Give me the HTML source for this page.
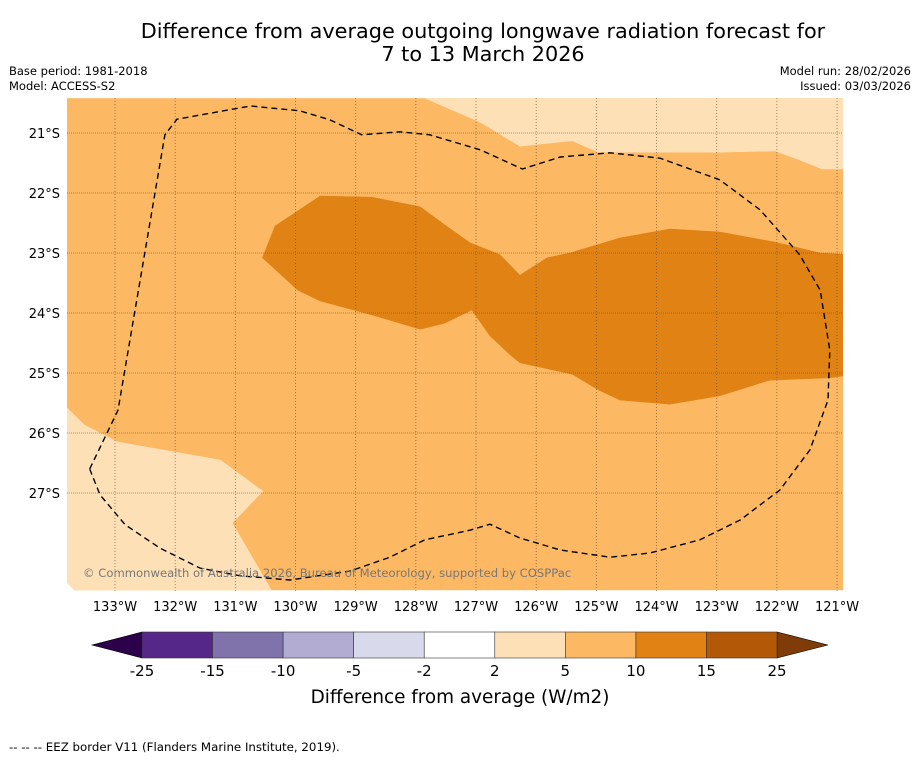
<!DOCTYPE html>
<html><head><meta charset="utf-8"><style>
body{margin:0;background:#fff;width:919px;height:758px;overflow:hidden;font-family:"DejaVu Sans","Liberation Sans",sans-serif}
</style></head><body>
<svg width="919" height="758" xmlns="http://www.w3.org/2000/svg" font-family="DejaVu Sans, Liberation Sans, sans-serif">
<text x="483" y="38" font-size="20.8" text-anchor="middle">Difference from average outgoing longwave radiation forecast for</text>
<text x="483" y="61" font-size="20.8" text-anchor="middle">7 to 13 March 2026</text>
<text x="9" y="75" font-size="11.5">Base period: 1981-2018</text>
<text x="9" y="90" font-size="11.5">Model: ACCESS-S2</text>
<text x="911" y="75" font-size="11.5" text-anchor="end">Model run: 28/02/2026</text>
<text x="911" y="90" font-size="11.5" text-anchor="end">Issued: 03/03/2026</text>
<defs><clipPath id="mapclip"><rect x="67" y="98" width="776" height="493"/></clipPath></defs>
<g id="map" clip-path="url(#mapclip)"></g>
<g id="ticks"></g>
<g id="cbar"></g>
<text x="460" y="703" font-size="18.4" text-anchor="middle">Difference from average (W/m2)</text>
<text x="9" y="751" font-size="11.8">--  --  -- EEZ border V11 (Flanders Marine Institute, 2019).</text>
</svg>
<script>
const lonTicks=[133,132,131,130,129,128,127,126,125,124,123,122,121];
const latTicks=[21,22,23,24,25,26,27];
const cbarLevels=[-25,-15,-10,-5,-2,2,5,10,15,25];
const cbarColors=["#542788","#8073ac","#b2abd2","#d8daeb","#ffffff","#fee0b6","#fdb863","#e08214","#b35806"];
const extent=[133.8,120.9,20.42,28.62];
const whiteTop=[[124.27,20.42],[123.74,20.57],[122.98,20.58],[122.03,20.45],[121.62,20.52],[121.2,20.58],[120.9,20.57],[120.9,20.3],[124.27,20.3]];
const lightTop=[[127.85,20.42],[126.93,20.82],[126.27,21.22],[125.40,21.13],[124.97,21.32],[122.95,21.32],[122.03,21.3],[121.62,21.45],[121.25,21.6],[120.9,21.6],[120.9,20.42]];
const lightBL=[[133.8,25.58],[133.5,25.87],[132.95,26.15],[131.25,26.45],[130.54,26.97],[131.05,27.5],[130.4,28.62],[133.8,28.62]];
const darkBlob=[[130.55,23.08],[130.34,22.55],[129.59,22.05],[128.73,22.07],[127.93,22.23],[127.52,22.53],[127.10,22.83],[126.60,23.03],[126.27,23.37],[125.82,23.08],[125.44,23.0],[124.61,22.75],[123.78,22.6],[122.95,22.65],[122.03,22.82],[121.28,23.0],[120.9,23.02],[120.9,25.05],[121.12,25.08],[122.12,25.12],[122.95,25.38],[123.78,25.52],[124.61,25.45],[124.97,25.28],[125.40,25.02],[126.27,24.83],[126.43,24.70],[126.77,24.38],[127.07,23.95],[127.52,24.17],[127.93,24.27],[128.77,24.02],[129.59,23.8],[129.96,23.62]];
const eez=[[133.42,26.6],[132.95,25.62],[132.17,21.03],[131.97,20.77],[130.75,20.55],[129.93,20.63],[129.43,20.78],[128.9,21.03],[128.27,20.98],[127.77,21.03],[126.93,21.28],[126.23,21.6],[125.6,21.4],[124.77,21.33],[123.94,21.42],[122.95,21.78],[122.28,22.28],[121.62,23.03],[121.28,23.62],[121.12,24.62],[121.15,25.45],[121.45,26.28],[121.95,26.95],[122.61,27.45],[123.28,27.78],[124.11,28.0],[124.77,28.07],[125.6,27.95],[126.27,27.75],[126.77,27.52],[127.10,27.62],[127.85,27.78],[128.43,28.07],[129.09,28.3],[130.09,28.45],[130.92,28.38],[131.59,28.25],[132.25,27.92],[132.83,27.53],[133.25,27.03],[133.42,26.6]];
const NS="http://www.w3.org/2000/svg";
const X=lon=>115+(133-lon)*60.17;
const Y=lat=>133+(lat-21)*60;
function mk(tag,attrs,parent){const e=document.createElementNS(NS,tag);for(const k in attrs)e.setAttribute(k,attrs[k]);parent.appendChild(e);return e;}
const map=document.getElementById('map');
const pts=a=>a.map(p=>X(p[0]).toFixed(1)+','+Y(p[1]).toFixed(1)).join(' ');
let bg=mk('rect',{x:X(extent[0]),y:Y(extent[2]),width:X(extent[1])-X(extent[0]),height:Y(extent[3])-Y(extent[2]),fill:cbarColors[6]},map);


const polys=[[whiteTop,cbarColors[4],'contour-white-top'],[lightTop,cbarColors[5],'contour-2-5-top'],[lightBL,cbarColors[5],'contour-2-5-southwest'],[darkBlob,cbarColors[7],'contour-10-15']];
polys.forEach(([a,c,n])=>{const p=mk('polygon',{points:pts(a),fill:c,stroke:c,'stroke-width':0.5},map);

});
const cw=mk('polygon',{points:"67,583 75,591 67,591",fill:"#fff"},map);


const ticks=document.getElementById('ticks');
lonTicks.forEach(l=>{const g=mk('line',{x1:X(l),x2:X(l),y1:98,y2:591,stroke:'#6b5030','stroke-width':0.8,'stroke-dasharray':'1,2','stroke-opacity':0.8},map);


const t=mk('text',{x:X(l),y:611,'font-size':13,'text-anchor':'middle'},ticks);t.textContent=l+'°W';

});
latTicks.forEach(l=>{const g=mk('line',{x1:67,x2:843,y1:Y(l),y2:Y(l),stroke:'#6b5030','stroke-width':0.8,'stroke-dasharray':'1,1','stroke-opacity':0.7},map);


const t=mk('text',{x:60,y:Y(l)+5,'font-size':13,'text-anchor':'end'},ticks);t.textContent=l+'°S';

});
const e=mk('polyline',{points:pts(eez),fill:'none',stroke:'#000','stroke-width':1.4,'stroke-dasharray':'6,4'},map);


const cr=mk('text',{x:83,y:577,'font-size':11.6,fill:'#777'},map);cr.textContent='© Commonwealth of Australia 2026, Bureau of Meteorology, supported by COSPPac';


const cb=document.getElementById('cbar');
const cx0=142,cx1=777,cy=632,ch=26,bw=(cx1-cx0)/cbarColors.length;
const lt=mk('polygon',{points:`${cx0},${cy} ${cx0},${cy+ch} 92,${cy+ch/2}`,fill:'#2d004b',stroke:'#000','stroke-width':0.6},cb);


const rt=mk('polygon',{points:`${cx1},${cy} ${cx1},${cy+ch} 828,${cy+ch/2}`,fill:'#7f3b08',stroke:'#000','stroke-width':0.6},cb);


cbarColors.forEach((c,i)=>{const r=mk('rect',{x:cx0+i*bw,y:cy,width:bw,height:ch,fill:c,stroke:'#333','stroke-width':0.6},cb);

});
cbarLevels.forEach((v,i)=>{const t=mk('text',{x:cx0+i*bw,y:676,'font-size':15,'text-anchor':'middle'},cb);t.textContent=v;

});
</script>
</body></html>
